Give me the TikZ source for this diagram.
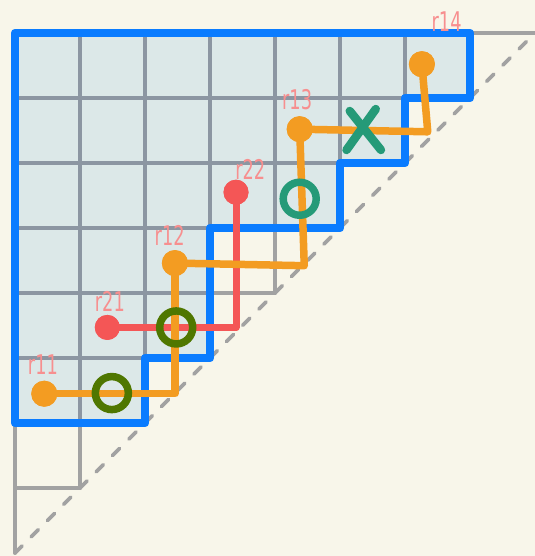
\documentclass[tikz,border=0pt]{standalone}
\usepackage{fontspec}
\usetikzlibrary{calc}
\setmainfont{DejaVu Sans}
\definecolor{bg}{HTML}{F8F6EA}
\definecolor{cellfill}{HTML}{DCE8E8}
\definecolor{gridout}{HTML}{A2A2A2}
\definecolor{gridin}{HTML}{8C96A2}
\definecolor{outline}{HTML}{0A7CFF}
\definecolor{orangepath}{HTML}{F39C22}
\definecolor{redpath}{HTML}{F45656}
\definecolor{labelpink}{HTML}{F78F8F}
\definecolor{olivering}{HTML}{4F7700}
\definecolor{tealmark}{HTML}{259A78}
\tikzset{
  gridline/.style={line width=3.8bp, line cap=round},
  diag/.style={gridout, line width=3.8bp, line cap=round, dash pattern=on 10bp off 13bp},
  shapeline/.style={outline, line width=8.5bp, line join=round, line cap=round},
  opath/.style={orangepath, line width=7.5bp, line join=round, line cap=round},
  rpath/.style={redpath, line width=7bp, line join=round, line cap=round},
  odot/.style={circle, fill=orangepath, inner sep=0pt, minimum size=26bp},
  rdot/.style={circle, fill=redpath, inner sep=0pt, minimum size=25bp},
  ring/.style={circle, draw=#1, line width=7.5bp, inner sep=0pt, minimum size=33bp},
  lbl/.style={labelpink, font=\fontsize{17}{17}\selectfont, xscale=1.05, yscale=1.6, transform shape, inner sep=0pt}
}
\begin{document}
\begin{tikzpicture}[x=65bp,y=65bp]
\useasboundingbox[fill=bg] (-0.2308,-0.0462) rectangle (8.0,8.5077);
% filled region
\fill[cellfill] (0,2) -- (0,8) -- (7,8) -- (7,7) -- (6,7) -- (6,6) -- (5,6) -- (5,5) -- (3,5) -- (3,3) -- (2,3) -- (2,2) -- cycle;
% staircase grid
\draw[gridline, gridout] (0,0) -- (0,8);
\foreach \r in {1,...,8} \draw[gridline, gridout] (0,\r) -- (\r,\r);
\foreach \c in {1,...,7} \draw[gridline, gridout] (\c,\c) -- (\c,8);
\begin{scope}
\clip (0,2) -- (0,8) -- (7,8) -- (7,7) -- (6,7) -- (6,6) -- (5,6) -- (5,5) -- (3,5) -- (3,3) -- (2,3) -- (2,2) -- cycle;
\foreach \r in {2,...,8} \draw[gridline, gridin] (0,\r) -- (\r,\r);
\foreach \c in {1,...,7} \draw[gridline, gridin] (\c,\c) -- (\c,8);
\end{scope}
% diagonal
\draw[diag] (0,0) -- (8,8);
% blue outline
\draw[shapeline] (0,2) -- (0,8) -- (7,8) -- (7,7) -- (6,7) -- (6,6) -- (5,6) -- (5,5) -- (3,5) -- (3,3) -- (2,3) -- (2,2) -- cycle;
% dots
\node[rdot] (r21) at (1.42,3.47) {};
\node[rdot] (r22) at (3.4,5.55) {};
\node[odot] (r11) at (0.45,2.45) {};
\node[odot] (r12) at (2.46,4.46) {};
\node[odot] (r13) at (4.38,6.52) {};
\node[odot] (r14) at (6.26,7.52) {};
% corners
\coordinate (c21) at (3.4,3.47);
\coordinate (c11) at (2.46,2.45);
\coordinate (c12) at (4.45,4.42);
\coordinate (c13) at (6.35,6.48);
% red path
\draw[rpath] (r21.center) -- (c21) -- (r22.center);
% orange paths
\draw[opath] (r11.center) -- (c11) -- (r12.center);
\draw[opath] (r12.center) -- (c12) -- (r13.center);
\draw[opath] (r13.center) -- (c13) -- (r14.center);
% redraw dots on top
\node[odot] at (r11) {};
\node[odot] at (r12) {};
\node[odot] at (r13) {};
\node[odot] at (r14) {};
\node[rdot] at (r21) {};
\node[rdot] at (r22) {};
% rings and cross
\node[ring=olivering] (o1) at (1.49,2.46) {};
\node[ring=olivering] (o2) at (2.48,3.47) {};
\node[ring=tealmark] (o3) at (4.38,5.45) {};
\node[inner sep=0pt, minimum size=30bp] (x1) at (5.35,6.5) {};
\draw[tealmark, line width=8.5bp, line cap=round] ($(x1)+(-0.25,-0.3)$) -- ($(x1)+(0.2,0.33)$);
\draw[tealmark, line width=8.5bp, line cap=round] ($(x1)+(-0.2,0.3)$) -- ($(x1)+(0.28,-0.3)$);
% labels
\node[lbl] (l11) at (0.43,2.9) {r11};
\node[lbl] (l21) at (1.46,3.87) {r21};
\node[lbl] (l12) at (2.38,4.89) {r12};
\node[lbl] (l22) at (3.62,5.9) {r22};
\node[lbl] (l13) at (4.34,6.98) {r13};
\node[lbl] (l14) at (6.64,8.17) {r14};
\end{tikzpicture}
\end{document}
